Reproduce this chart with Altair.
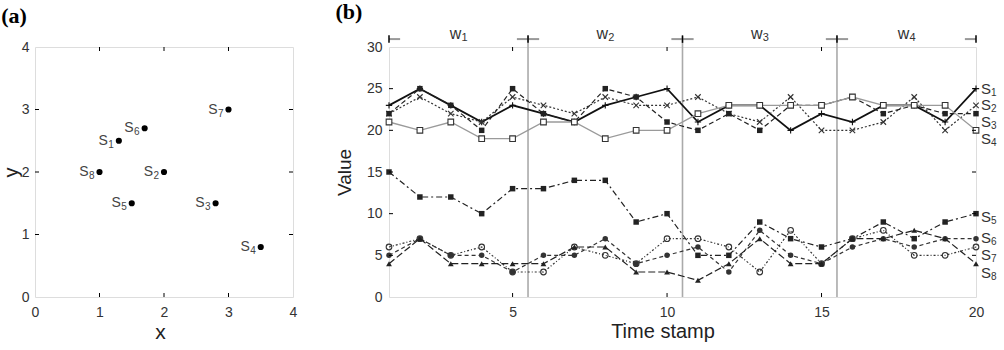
import altair as alt
import pandas as pd

FONT = "Liberation Sans"
SERIF = "Liberation Serif"

# ---------------- panel (a) data ----------------
point_letter = ["S", "S", "S", "S", "S", "S", "S", "S"]
point_sub = ["1", "2", "3", "4", "5", "6", "7", "8"]
point_x = [1.3, 2.0, 2.8, 3.5, 1.5, 1.7, 3.0, 1.0]
point_y = [2.5, 2.0, 1.5, 0.8, 1.5, 2.7, 3.0, 2.0]
ticks_a = [0, 1, 2, 3, 4]

# ---------------- panel (b) data ----------------
time = list(range(1, 21))
s1 = [23, 25, 23, 21, 23, 22, 21, 23, 24, 25, 21, 23, 23, 20, 22, 21, 23, 23, 21, 25]
s2 = [22, 24, 22, 21, 24, 23, 22, 24, 23, 23, 24, 22, 21, 24, 20, 20, 21, 24, 20, 23]
s3 = [22, 25, 23, 20, 25, 22, 21, 25, 24, 21, 20, 22, 20, 23, 23, 24, 22, 23, 22, 22]
s4 = [21, 20, 21, 19, 19, 21, 21, 19, 20, 20, 22, 23, 23, 23, 23, 24, 23, 23, 23, 20]
s5 = [15, 12, 12, 10, 13, 13, 14, 14, 9, 10, 5, 5, 9, 7, 6, 7, 9, 7, 9, 10]
s6 = [5, 7, 5, 5, 3, 5, 5, 7, 4, 5, 6, 3, 8, 5, 4, 6, 7, 6, 7, 7]
s7 = [6, 7, 5, 6, 3, 3, 6, 5, 4, 7, 7, 6, 3, 8, 4, 7, 8, 5, 5, 6]
s8 = [4, 7, 4, 4, 4, 4, 6, 6, 3, 3, 2, 4, 7, 4, 4, 7, 7, 8, 7, 4]
series_values = [s1, s2, s3, s4, s5, s6, s7, s8]
series_sub = ["1", "2", "3", "4", "5", "6", "7", "8"]
label_anchor = [25, 23.0, 21.0, 19.0, 9.6, 7.1, 5.0, 2.9]
window_names = ["w", "w", "w", "w"]
window_sub = ["1", "2", "3", "4"]
window_bounds = [1, 5.5, 10.5, 15.5, 20]
ticks_bx = [5, 10, 15, 20]
ticks_by = [0, 5, 10, 15, 20, 25, 30]

W_A, H = 258, 250
W_B = 587
TL = 4  # inward tick length

# ====================== panel (a) ======================
dfa = pd.DataFrame({"x": point_x, "y": point_y, "letter": point_letter, "sub": point_sub})
xa = alt.X("x:Q", scale=alt.Scale(domain=[0, 4], nice=False, zero=False),
           axis=alt.Axis(values=ticks_a, format="d", ticks=False, domain=False, grid=False,
                         labelFontSize=14, labelColor="#333", labelFont=FONT, labelPadding=8,
                         labelFlush=False, title="x", titleFont=FONT, titleFontSize=21,
                         titleFontWeight="normal", titleColor="#222", titlePadding=2,
                         titleX=W_A / 2 - 4))
ya = alt.Y("y:Q", scale=alt.Scale(domain=[0, 4], nice=False, zero=False),
           axis=alt.Axis(values=ticks_a, format="d", ticks=False, domain=False, grid=False,
                         labelFontSize=14, labelColor="#333", labelFont=FONT, labelPadding=6,
                         title="y", titleFont=FONT, titleFontSize=20, titleFontWeight="normal",
                         titleColor="#222", titlePadding=0))

pts_a = alt.Chart(dfa).mark_point(filled=True, size=38, color="black", opacity=1).encode(xa, ya)
lab_a = alt.Chart(dfa).mark_text(align="right", baseline="middle", dx=-11, fontSize=14,
                                 font=FONT, color="#444").encode(xa, ya, text="letter:N")
sub_a = alt.Chart(dfa).mark_text(align="right", baseline="middle", dx=-5, dy=4, fontSize=10,
                                 font=FONT, color="#444").encode(xa, ya, text="sub:N")

tick_df_a = pd.DataFrame({"v": ticks_a[1:-1]})
tx_a = alt.X("v:Q", scale=alt.Scale(domain=[0, 4], nice=False, zero=False))
ty_a = alt.Y("v:Q", scale=alt.Scale(domain=[0, 4], nice=False, zero=False))
tick_layers_a = [
    alt.Chart(tick_df_a).mark_rule(color="black").encode(x=tx_a, y=alt.value(H), y2=alt.value(H - TL)),
    alt.Chart(tick_df_a).mark_rule(color="black").encode(x=tx_a, y=alt.value(0), y2=alt.value(TL)),
    alt.Chart(tick_df_a).mark_rule(color="black").encode(y=ty_a, x=alt.value(0), x2=alt.value(TL)),
    alt.Chart(tick_df_a).mark_rule(color="black").encode(y=ty_a, x=alt.value(W_A), x2=alt.value(W_A - TL)),
]

panel_a = alt.layer(pts_a, lab_a, sub_a, *tick_layers_a).properties(
    width=W_A, height=H,
    title=alt.TitleParams("(a)", anchor="start", frame="bounds", font=SERIF, fontSize=22,
                          fontWeight="bold", color="black", offset=12))

# ====================== panel (b) ======================
xs = alt.Scale(domain=[1, 20], nice=False, zero=False)
ysc = alt.Scale(domain=[0, 30], nice=False, zero=False)
xb = alt.X("t:Q", scale=xs,
           axis=alt.Axis(values=ticks_bx, ticks=False, domain=False, grid=False,
                         labelFontSize=14, labelColor="#333", labelFont=FONT, labelPadding=8,
                         labelFlush=False, title="Time stamp", titleFont=FONT, titleFontSize=20,
                         titleFontWeight="normal", titleColor="#222", titlePadding=2,
                         titleX=W_B / 2 - 20))
yb = alt.Y("v:Q", scale=ysc,
           axis=alt.Axis(values=ticks_by, ticks=False, domain=False, grid=False,
                         labelFontSize=14, labelColor="#333", labelFont=FONT, labelPadding=7,
                         title="Value", titleFont=FONT, titleFontSize=19, titleFontWeight="normal",
                         titleColor="#222", titlePadding=12))

X_PATH = "M-1,-1L1,1M1,-1L-1,1"
PLUS_PATH = "M-1,0L1,0M0,-1L0,1"
styles = [
    dict(color="#111", width=1.8, dash=None, shape=PLUS_PATH, filled=False, size=40),
    dict(color="#333", width=1.2, dash=[2, 2], shape=X_PATH, filled=False, size=30),
    dict(color="#222", width=1.2, dash=[5, 3], shape="square", filled=True, size=30),
    dict(color="#9a9a9a", width=1.3, dash=None, shape="square", filled=False, size=32),
    dict(color="#222", width=1.2, dash=[6, 3, 2, 3], shape="square", filled=True, size=30),
    dict(color="#333", width=1.2, dash=[4, 3], shape="circle", filled=True, size=30),
    dict(color="#333", width=1.2, dash=[2, 2, 1, 2], shape="circle", filled=False, size=32),
    dict(color="#222", width=1.2, dash=[7, 3], shape="triangle-up", filled=True, size=34),
]

# window boundary verticals
ann_y = 30.95
vb_df = pd.DataFrame({"t": window_bounds[1:-1], "v": [0] * 3, "v2": [ann_y + 0.35] * 3})
vlines = alt.Chart(vb_df).mark_rule(color="#aaaaaa", strokeWidth=1.6).encode(
    x=xb, y=yb, y2="v2:Q")

layers_b = [vlines]
for vals, st in zip(series_values, styles):
    d = pd.DataFrame({"t": time, "v": vals})
    lk = dict(color=st["color"], strokeWidth=st["width"])
    if st["dash"] is not None:
        lk["strokeDash"] = st["dash"]
    layers_b.append(alt.Chart(d).mark_line(**lk).encode(xb, yb))
    mk = dict(shape=st["shape"], size=st["size"], opacity=1, strokeWidth=1.1)
    if st["filled"]:
        mk.update(filled=True, color=st["color"])
    else:
        mk.update(filled=False, stroke="#333" if st["color"] == "#9a9a9a" else st["color"])
        if st["shape"] == "square":
            mk["fill"] = "white"
    layers_b.append(alt.Chart(d).mark_point(**mk).encode(xb, yb))

# window arrows on top
half = 0.36
seg_df = pd.DataFrame({
    "t": [max(window_bounds[0], b - half) for b in window_bounds],
    "t2": [min(window_bounds[-1], b + half) for b in window_bounds],
    "v": [ann_y] * len(window_bounds),
})
segs = alt.Chart(seg_df).mark_rule(color="#999999", strokeWidth=2).encode(x=xb, x2="t2:Q", y=yb)
bt_df = pd.DataFrame({"t": window_bounds, "v": [ann_y - 0.45] * 5, "v2": [ann_y + 0.45] * 5})
bticks = alt.Chart(bt_df).mark_rule(color="black", strokeWidth=1.5).encode(x=xb, y=yb, y2="v2:Q")
wc = [(window_bounds[i] + window_bounds[i + 1]) / 2 for i in range(4)]
w_df = pd.DataFrame({"t": wc, "v": [31.6] * 4, "name": window_names, "sub": window_sub})
w_txt = alt.Chart(w_df).mark_text(align="center", baseline="middle", dx=-3, fontSize=16,
                                  font=FONT, color="#333").encode(xb, yb, text="name:N")
w_sub = alt.Chart(w_df).mark_text(align="center", baseline="middle", dx=6, dy=4, fontSize=11,
                                  font=FONT, color="#333").encode(xb, yb, text="sub:N")

# right labels
lab_df = pd.DataFrame({"v": label_anchor, "letter": ["S"] * 8, "sub": series_sub})
r_txt = alt.Chart(lab_df).mark_text(align="left", baseline="middle", fontSize=15, font=FONT,
                                    color="#333").encode(x=alt.value(W_B + 5), y=yb, text="letter:N")
r_sub = alt.Chart(lab_df).mark_text(align="left", baseline="middle", dy=4, fontSize=10, font=FONT,
                                    color="#333").encode(x=alt.value(W_B + 15), y=yb, text="sub:N")

# inward ticks
tbx = pd.DataFrame({"t": ticks_bx[:-1]})
tby = pd.DataFrame({"v": ticks_by[1:-1]})
tick_layers_b = [
    alt.Chart(tbx).mark_rule(color="black").encode(x=xb, y=alt.value(H), y2=alt.value(H - TL)),
    alt.Chart(tbx).mark_rule(color="black").encode(x=xb, y=alt.value(0), y2=alt.value(TL)),
    alt.Chart(tby).mark_rule(color="black").encode(y=yb, x=alt.value(0), x2=alt.value(TL)),
    alt.Chart(tby).mark_rule(color="black").encode(y=yb, x=alt.value(W_B), x2=alt.value(W_B - TL)),
]

panel_b = alt.layer(*layers_b, segs, bticks, w_txt, w_sub, r_txt, r_sub, *tick_layers_b).properties(
    width=W_B, height=H,
    title=alt.TitleParams("(b)", anchor="start", frame="bounds", font=SERIF, fontSize=22,
                          fontWeight="bold", color="black", offset=2))

chart = alt.hconcat(panel_a, panel_b, spacing=36).properties(
    padding={"left": 0, "top": 0, "right": 0, "bottom": 0}
).configure_view(stroke="black", strokeWidth=1.4).configure(background="white")

chart.save("out.html", embed_options={"renderer": "svg", "actions": False})
